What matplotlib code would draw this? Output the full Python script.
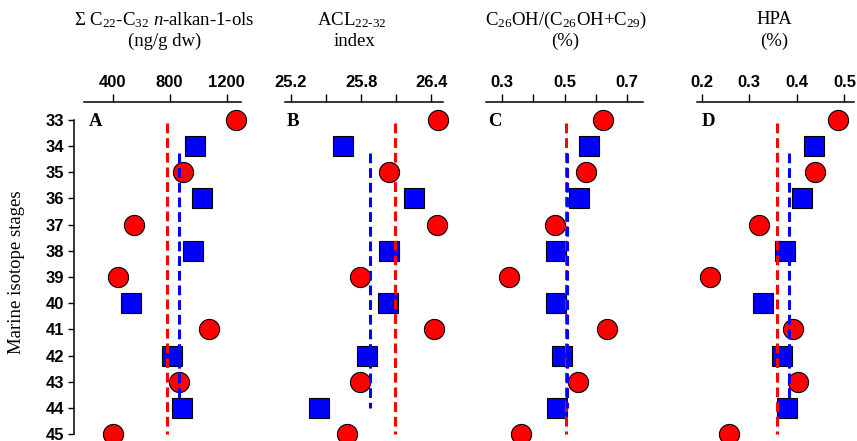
import numpy as np
import matplotlib
matplotlib.use("Agg")
import matplotlib.pyplot as plt

plt.rcParams['mathtext.fontset'] = 'custom'
plt.rcParams['mathtext.rm'] = 'Liberation Serif'
plt.rcParams['mathtext.it'] = 'Liberation Serif:italic'
plt.rcParams['mathtext.bf'] = 'Liberation Serif:bold'

# Marine isotope stages
red_stages = [33, 35, 37, 39, 41, 43, 45]
blue_stages = [34, 36, 38, 40, 42, 44]

# Panel A: sum C22-C32 n-alkan-1-ols (ng/g dw)
a_red = [1268, 892, 548, 435, 1077, 866, 400]
a_blue = [975, 1026, 964, 528, 818, 889]
# Panel B: ACL22-32 index
b_red = [26.455, 26.042, 26.446, 25.790, 26.426, 25.794, 25.683]
b_blue = [25.644, 26.255, 26.042, 26.033, 25.854, 25.444]
# Panel C: C26OH/(C26OH+C29)
c_red = [0.624, 0.568, 0.469, 0.323, 0.635, 0.544, 0.362]
c_blue = [0.577, 0.547, 0.474, 0.474, 0.493, 0.475]
# Panel D: HPA
d_red = [0.486, 0.439, 0.320, 0.217, 0.392, 0.403, 0.257]
d_blue = [0.436, 0.411, 0.376, 0.329, 0.369, 0.380]

stage_ticks = list(range(33, 46))

panels = [
    dict(red=a_red, blue=a_blue, xlim=(200, 1300), ticks=[400, 800, 1200],
         labels=['400', '800', '1200'], letter='A',
         title1=r'$\Sigma$ C$_{22}$-C$_{32}$ $n$-alkan-1-ols', title2='(ng/g dw)',
         left=84, right=241, tcx1=164, tcx2=165),
    dict(red=b_red, blue=b_blue, xlim=(25.15, 26.5), ticks=[25.2, 25.5, 25.8, 26.1, 26.4],
         labels=['25.2', '', '25.8', '', '26.4'], letter='B',
         title1=r'ACL$_{22\text{-}32}$', title2='index',
         left=285, right=443, tcx1=352, tcx2=354),
    dict(red=c_red, blue=c_blue, xlim=(0.25, 0.75), ticks=[0.3, 0.4, 0.5, 0.6, 0.7],
         labels=['0.3', '', '0.5', '', '0.7'], letter='C',
         title1=r'C$_{26}$OH/(C$_{26}$OH+C$_{29}$)', title2='(%)',
         left=486, right=643, tcx1=566, tcx2=565),
    dict(red=d_red, blue=d_blue, xlim=(0.19, 0.52), ticks=[0.2, 0.3, 0.4, 0.5],
         labels=['0.2', '0.3', '0.4', '0.5'], letter='D',
         title1='HPA', title2='(%)',
         left=697, right=854, tcx1=774, tcx2=774),
]

W, H = 857, 441
fig = plt.figure(figsize=(W / 100, H / 100), dpi=100)

top_px = 102
serif = 'Liberation Serif'
sans = 'Liberation Sans'

for i, p in enumerate(panels):
    ax = fig.add_axes([p['left'] / W, 0, (p['right'] - p['left']) / W, 1 - top_px / H])
    ax.set_xlim(*p['xlim'])
    ax.set_ylim(45.256, 32.325)
    ax.patch.set_alpha(0)

    ax.plot(p['red'], red_stages, linestyle='none', marker='o', ms=14.5,
            mfc='#FF0000', mec='black', mew=0.8, clip_on=False, zorder=3)
    ax.plot(p['blue'], blue_stages, linestyle='none', marker='s', ms=14.5,
            mfc='#0000FF', mec='black', mew=0.8, clip_on=False, zorder=3)

    rm = np.mean(p['red'])
    bm = np.mean(p['blue'])
    ax.plot([rm, rm], [33.13, 45.0], color='#FF0000', lw=2.2, dashes=(3.2, 1.6),
            zorder=4, clip_on=False)
    ax.plot([bm, bm], [34.28, 44.0], color='#0000FF', lw=2.2, dashes=(3.2, 1.6),
            zorder=4, clip_on=False)

    ax.xaxis.tick_top()
    ax.set_xticks(p['ticks'])
    ax.set_xticklabels(p['labels'], fontfamily=sans, fontweight='bold', fontsize=12)
    ax.tick_params(axis='x', direction='out', length=5.5, width=1.0, pad=3, top=True,
                   bottom=False, colors='black')
    for s in ['bottom', 'right', 'left']:
        ax.spines[s].set_visible(False)
    ax.spines['top'].set_linewidth(1.1)

    if i == 0:
        ax.spines['left'].set_visible(True)
        ax.spines['left'].set_position(('outward', 7))
        ax.spines['left'].set_bounds(33, 45)
        ax.spines['left'].set_linewidth(1.1)
        ax.set_yticks(stage_ticks)
        ax.set_yticklabels([str(s) for s in stage_ticks], fontfamily=sans,
                           fontweight='bold', fontsize=12)
        ax.tick_params(axis='y', direction='out', length=4, width=1.0, pad=3)
    else:
        ax.set_yticks([])

    fig.text((p['left'] + (5 if i in (0, 3) else 2)) / W, 1 - 121 / H, p['letter'],
             fontfamily=serif, fontweight='bold', fontsize=13.5, ha='left', va='center')

    fig.text(p['tcx1'] / W, 1 - 20 / H, p['title1'], fontfamily=serif, fontsize=13.5,
             ha='center', va='center')
    fig.text(p['tcx2'] / W, 1 - 41 / H, p['title2'], fontfamily=serif, fontsize=13.5,
             ha='center', va='center')

fig.text(17 / W, 1 - 272 / H, 'Marine isotope stages', fontfamily=serif, fontsize=13.5,
         rotation=90, ha='center', va='center')

fig.savefig('out.png', dpi=100)
